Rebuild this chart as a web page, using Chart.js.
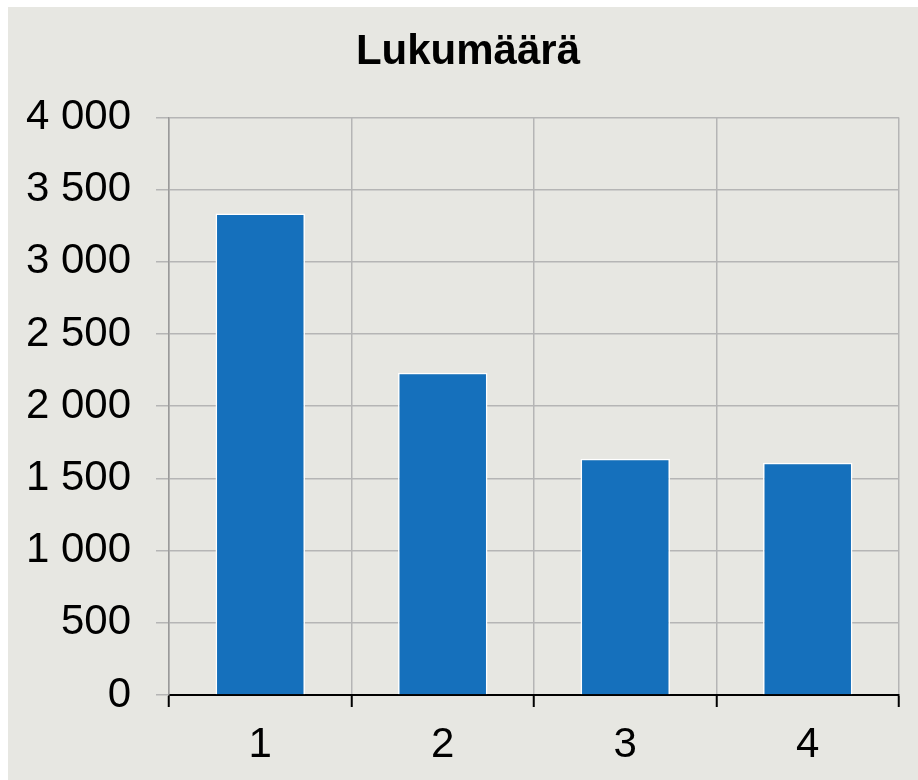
<!DOCTYPE html>
<html>
<head>
<meta charset="utf-8">
<script src="https://cdn.jsdelivr.net/npm/chart.js@4/dist/chart.umd.min.js"></script>
<style>
  html, body { margin: 0; padding: 0; background: #ffffff; }
  #box { position: absolute; left: 8px; top: 7px; width: 910px; height: 773px; background: #e7e7e2; }
  canvas { display: block; }
</style>
</head>
<body>
<div id="box"><canvas id="chart" width="910" height="773"></canvas></div>
<script>
const categories = ['1', '2', '3', '4'];
const counts = [3335, 2232, 1636, 1608];
const yTicks = [0, 500, 1000, 1500, 2000, 2500, 3000, 3500, 4000];

// thousands with a space, like "3 500"
function fmt(v) {
  return String(v).replace(/\B(?=(\d{3})+(?!\d))/g, ' ');
}

Chart.defaults.font.family = '"Liberation Sans", Arial, sans-serif';
Chart.defaults.color = '#000000';

// left padding is there to centre the title; let the y labels use that room
const widenY = {
  id: 'widenY',
  afterLayout(chart) {
    chart.scales.y.left = 0;
  }
};

new Chart(document.getElementById('chart'), {
  type: 'bar',
  data: {
    labels: categories,
    datasets: [{
      label: 'Lukumäärä',
      data: counts,
      backgroundColor: '#1570bc',
      borderColor: '#ffffff',
      borderWidth: 1.5,
      categoryPercentage: 1,
      barPercentage: 0.49
    }]
  },
  plugins: [widenY],
  options: {
    responsive: false,
    animation: false,
    layout: { padding: { left: 29, right: 19, top: 0, bottom: 0 } },
    plugins: {
      legend: { display: false },
      tooltip: { enabled: false },
      title: {
        display: true,
        text: 'Lukumäärä',
        font: { size: 42, weight: 'bold' },
        color: '#000000',
        padding: { top: 20, bottom: 40 }
      }
    },
    scales: {
      x: {
        z: 1,
        afterFit: axis => { axis.height = 85; },
        grid: { color: '#b5b5b5', lineWidth: 1.5, tickColor: '#000000', tickLength: 12, tickWidth: 2 },
        border: { color: '#000000', width: 2 },
        ticks: { font: { size: 42 }, padding: 13, color: '#000000' }
      },
      y: {
        min: 0,
        max: 4000,
        afterFit: axis => { axis.width = 132; },
        afterBuildTicks: axis => { axis.ticks = yTicks.map(v => ({ value: v })); },
        grid: { color: '#b5b5b5', lineWidth: 1.5, tickLength: 13 },
        border: { color: '#9a9a9a', width: 1.5 },
        ticks: { font: { size: 42 }, padding: 25, color: '#000000', callback: v => fmt(v) }
      }
    }
  }
});
</script>
</body>
</html>
